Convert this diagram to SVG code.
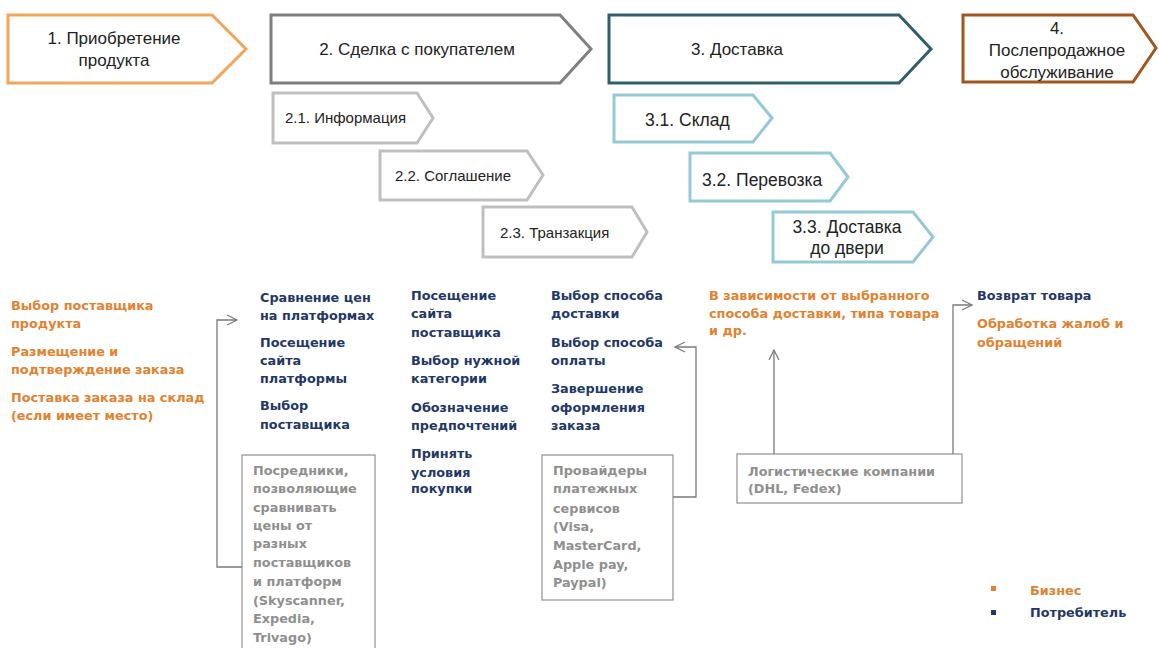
<svg xmlns="http://www.w3.org/2000/svg" width="1159" height="648" viewBox="0 0 1159 648">
<style>
.bg{fill:#ffffff}
.chev{fill:#ffffff;stroke-width:3;stroke-linejoin:miter}
.t0{font-family:"Liberation Sans",Arial,sans-serif;font-size:17px;fill:#222}
.t1{font-family:"Liberation Sans",Arial,sans-serif;font-size:15px;fill:#222}
.t3{font-family:"Liberation Sans",Arial,sans-serif;font-size:17.5px;fill:#222}
.b{font-family:"DejaVu Sans",Verdana,sans-serif;font-size:12.8px;font-weight:bold}
.or{fill:#E2822F}
.nv{fill:#1F3864}
.gy{font-family:"DejaVu Sans",Verdana,sans-serif;font-size:12.8px;font-weight:bold;fill:#8F8F8F}
.box{fill:#ffffff;stroke:#999;stroke-width:1.3}
.con{fill:none;stroke:#7a7a7a;stroke-width:1.3}
</style>
<defs>
<marker id="ah" viewBox="0 0 12 12" refX="11" refY="6" markerWidth="12" markerHeight="12" markerUnits="userSpaceOnUse" orient="auto">
<path d="M1,1 L11,6 L1,11" fill="none" stroke="#7a7a7a" stroke-width="1.2"/>
</marker>
</defs>
<rect class="bg" x="0" y="0" width="1159" height="648"/>

<g id="step1">
<polygon class="chev" stroke="#F2A55A" points="8,15 212,15 246,49 212,83 8,83"/>
<text class="t0" x="114" y="44" text-anchor="middle">1. Приобретение</text>
<text class="t0" x="114" y="66" text-anchor="middle">продукта</text>
</g>
<g id="step2">
<polygon class="chev" stroke="#7F7F7F" points="271,15 560,15 591,49 560,83 271,83"/>
<text class="t0" x="417" y="55" text-anchor="middle">2. Сделка с покупателем</text>
</g>
<g id="step3">
<polygon class="chev" stroke="#2F5F6C" points="609,15 899,15 931,49 899,83 609,83"/>
<text class="t0" x="737" y="55" text-anchor="middle">3. Доставка</text>
</g>
<g id="step4">
<polygon class="chev" stroke="#A0561C" points="963,15 1133,15 1156,48 1133,82 963,82"/>
<text class="t0" x="1057" y="34" text-anchor="middle">4.</text>
<text class="t0" x="1057" y="56" text-anchor="middle">Послепродажное</text>
<text class="t0" x="1057" y="78" text-anchor="middle">обслуживание</text>
</g>

<g id="step2-1">
<polygon class="chev" stroke="#BFBFBF" points="273,93 417,93 433,118 417,143 273,143"/>
<text class="t1" x="285" y="123">2.1. Информация</text>
</g>
<g id="step2-2">
<polygon class="chev" stroke="#BFBFBF" points="380,151 527,151 543,175 527,200 380,200"/>
<text class="t1" x="395" y="181">2.2. Соглашение</text>
</g>
<g id="step2-3">
<polygon class="chev" stroke="#BFBFBF" points="483,207 632,207 647,232 632,257 483,257"/>
<text class="t1" x="500" y="238">2.3. Транзакция</text>
</g>
<g id="step3-1">
<polygon class="chev" stroke="#93CAD6" points="614,95 753,95 772,118 753,142 614,142"/>
<text class="t3" x="645" y="126">3.1. Склад</text>
</g>
<g id="step3-2">
<polygon class="chev" stroke="#93CAD6" points="690,153 830,153 848,177 830,201 690,201"/>
<text class="t3" x="702" y="186">3.2. Перевозка</text>
</g>
<g id="step3-3">
<polygon class="chev" stroke="#93CAD6" points="773,212 913,212 933,237 913,262 773,262"/>
<text class="t3" x="847" y="233" text-anchor="middle">3.3. Доставка</text>
<text class="t3" x="847" y="254" text-anchor="middle">до двери</text>
</g>

<g id="col-business">
<text class="b or" x="11" y="310">Выбор поставщика</text>
<text class="b or" x="11" y="328">продукта</text>
<text class="b or" x="11" y="356">Размещение и</text>
<text class="b or" x="11" y="374">подтверждение заказа</text>
<text class="b or" x="11" y="402">Поставка  заказа  на склад</text>
<text class="b or" x="11" y="420">(если имеет место)</text>
</g>
<g id="col-info">
<text class="b nv" x="260" y="302">Сравнение цен</text>
<text class="b nv" x="260" y="320">на платформах</text>
<text class="b nv" x="260" y="347">Посещение</text>
<text class="b nv" x="260" y="365">сайта</text>
<text class="b nv" x="260" y="383">платформы</text>
<text class="b nv" x="260" y="410">Выбор</text>
<text class="b nv" x="260" y="429">поставщика</text>
</g>
<g id="col-agreement">
<text class="b nv" x="411" y="300">Посещение</text>
<text class="b nv" x="411" y="318">сайта</text>
<text class="b nv" x="411" y="337">поставщика</text>
<text class="b nv" x="411" y="365">Выбор нужной</text>
<text class="b nv" x="411" y="383">категории</text>
<text class="b nv" x="411" y="412">Обозначение</text>
<text class="b nv" x="411" y="430">предпочтений</text>
<text class="b nv" x="411" y="458">Принять</text>
<text class="b nv" x="411" y="477">условия</text>
<text class="b nv" x="411" y="493">покупки</text>
</g>
<g id="col-transaction">
<text class="b nv" x="551" y="300">Выбор способа</text>
<text class="b nv" x="551" y="318">доставки</text>
<text class="b nv" x="551" y="347">Выбор способа</text>
<text class="b nv" x="551" y="365">оплаты</text>
<text class="b nv" x="551" y="393">Завершение</text>
<text class="b nv" x="551" y="412">оформления</text>
<text class="b nv" x="551" y="430">заказа</text>
</g>
<g id="col-delivery">
<text class="b or" x="709" y="300">В зависимости  от выбранного</text>
<text class="b or" x="709" y="318">способа доставки,  типа товара</text>
<text class="b or" x="709" y="335">и др.</text>
</g>
<g id="col-after">
<text class="b nv" x="977" y="300">Возврат товара</text>
<text class="b or" x="977" y="328">Обработка  жалоб и</text>
<text class="b or" x="977" y="347">обращений</text>
</g>

<g id="box-intermediaries">
<rect class="box" x="242" y="455" width="133" height="200"/>
<text class="gy" x="253" y="475">Посредники,</text>
<text class="gy" x="253" y="493">позволяющие</text>
<text class="gy" x="253" y="512">сравнивать</text>
<text class="gy" x="253" y="530">цены от</text>
<text class="gy" x="253" y="548">разных</text>
<text class="gy" x="253" y="567">поставщиков</text>
<text class="gy" x="253" y="586">и платформ</text>
<text class="gy" x="253" y="605">(Skyscanner,</text>
<text class="gy" x="253" y="623">Expedia,</text>
<text class="gy" x="253" y="642">Trivago)</text>
</g>
<g id="box-payments">
<rect class="box" x="542" y="455" width="131" height="145"/>
<text class="gy" x="553" y="475">Провайдеры</text>
<text class="gy" x="553" y="493">платежных</text>
<text class="gy" x="553" y="513">сервисов</text>
<text class="gy" x="553" y="531">(Visa,</text>
<text class="gy" x="553" y="550">MasterCard,</text>
<text class="gy" x="553" y="569">Apple pay,</text>
<text class="gy" x="553" y="587">Paypal)</text>
</g>
<g id="box-logistics">
<rect class="box" x="737" y="454" width="225" height="49"/>
<text class="gy" x="748" y="476">Логистические  компании</text>
<text class="gy" x="748" y="493">(DHL, Fedex)</text>
</g>

<g id="connectors">
<path class="con" d="M242,567 H217 V320 H237" marker-end="url(#ah)"/>
<path class="con" d="M673,497 H696 V347 H675" marker-end="url(#ah)"/>
<path class="con" d="M774,454 V350" marker-end="url(#ah)"/>
<path class="con" d="M953,454 V305 H972" marker-end="url(#ah)"/>
</g>

<g id="legend">
<rect x="991" y="586" width="5" height="5" fill="#E2822F"/>
<text class="b or" x="1030" y="595">Бизнес</text>
<rect x="991" y="610" width="5" height="5" fill="#1F3864"/>
<text class="b nv" x="1030" y="617">Потребитель</text>
</g>
</svg>
